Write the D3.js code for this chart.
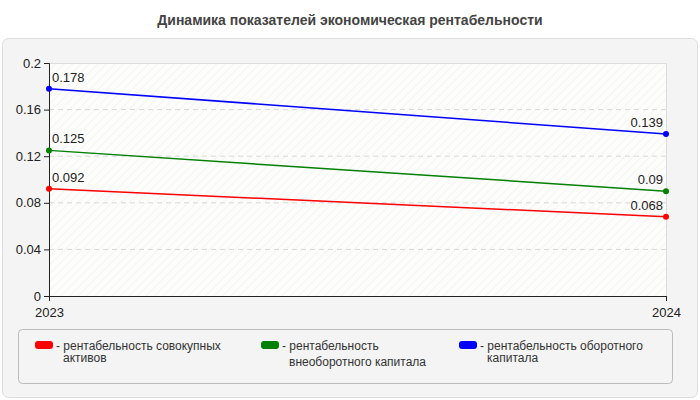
<!DOCTYPE html><html><head><meta charset="utf-8"><script src="https://cdn.jsdelivr.net/npm/d3@7"></script>
<style>body{margin:0;background:#fff;font-family:"Liberation Sans",Arial,sans-serif}</style></head><body><svg id="c" width="700" height="400"></svg>
<script>
const years=["2023","2024"];
const seriesNames=["рентабельность совокупных|активов","рентабельность|внеоборотного капитала","рентабельность оборотного|капитала"];
const colors=["#ff0000","#008000","#0000ff"];
const valsRed=[0.092,0.068];
const valsGreen=[0.125,0.09];
const valsBlue=[0.178,0.139];
const yTicks=[0,0.04,0.08,0.12,0.16,0.2];
const all=[valsRed,valsGreen,valsBlue];
const svg=d3.select("#c");
svg.append("text").attr("x",350).attr("y",25).attr("text-anchor","middle").attr("font-size",14).attr("font-weight","bold").attr("fill","#444").text("Динамика показателей экономическая рентабельности");
svg.append("rect").attr("x",2.5).attr("y",38.5).attr("width",695).attr("height",359).attr("rx",6).attr("fill","#f4f4f4").attr("stroke","#ddd");
const defs=svg.append("defs");
const p=defs.append("pattern").attr("id","h").attr("width",6).attr("height",6).attr("patternUnits","userSpaceOnUse").attr("patternTransform","rotate(45)");
p.append("rect").attr("width",6).attr("height",6).attr("fill","#fdfdfb");
p.append("line").attr("x1",0).attr("y1",0).attr("x2",0).attr("y2",6).attr("stroke","#ececec").attr("stroke-width",1);
const x=d3.scalePoint().domain(years).range([49,666]);
const y=d3.scaleLinear().domain([0,0.2]).range([296,63]);
svg.append("rect").attr("x",49).attr("y",63).attr("width",617).attr("height",233).attr("fill","url(#h)");
svg.append("line").attr("x1",49).attr("x2",666).attr("y1",63.5).attr("y2",63.5).attr("stroke","#ddd");
svg.append("line").attr("x1",666.5).attr("x2",666.5).attr("y1",63).attr("y2",296).attr("stroke","#ddd");
yTicks.slice(1,-1).forEach(t=>svg.append("line").attr("x1",49).attr("x2",666).attr("y1",y(t)).attr("y2",y(t)).attr("stroke","#d8d8d8").attr("stroke-dasharray","5,4"));
const ya=svg.append("g").attr("transform","translate(49,0)").call(d3.axisLeft(y).tickValues(yTicks).tickFormat(d=>String(+d.toFixed(2))).tickSize(5));
ya.selectAll("text").attr("font-size",13).attr("fill","#222").attr("font-family","Liberation Sans,Arial");
const xa=svg.append("g").attr("transform","translate(0,296)").call(d3.axisBottom(x).tickSize(5));
xa.selectAll("text").attr("font-size",13).attr("fill","#222").attr("font-family","Liberation Sans,Arial").attr("dy","1.0em");
svg.selectAll(".domain,.tick line").attr("stroke","#222");
all.forEach((v,i)=>{
 const line=d3.line().x((d,j)=>x(years[j])).y(d=>y(d));
 svg.append("path").datum(v).attr("d",line).attr("fill","none").attr("stroke",colors[i]).attr("stroke-width",1.5);
 v.forEach((d,j)=>{
  svg.append("circle").attr("cx",x(years[j])).attr("cy",y(d)).attr("r",3).attr("fill",colors[i]);
  svg.append("text").attr("x",j==0?x(years[j])+3:x(years[j])-3).attr("y",y(d)-7).attr("text-anchor",j==0?"start":"end").attr("font-size",13).attr("fill","#222").text(d);
 });
});
svg.append("rect").attr("x",18.5).attr("y",329.5).attr("width",654).attr("height",54).attr("rx",4).attr("fill","#f4f4f4").attr("stroke","#bbb");
const lx=[35,261,459];
seriesNames.forEach((n,i)=>{
 svg.append("rect").attr("x",lx[i]).attr("y",341).attr("width",18).attr("height",8).attr("rx",3).attr("fill",colors[i]);
 const parts=n.split("|");
 const t=svg.append("text").attr("font-size",12).attr("fill","#333");
 parts.forEach((s,k)=>t.append("tspan").attr("x",k==0?lx[i]+21:lx[i]+28).attr("y",350+k*(i==1?16:12)).text(k==0?"- "+s:s));
});
</script></body></html>
